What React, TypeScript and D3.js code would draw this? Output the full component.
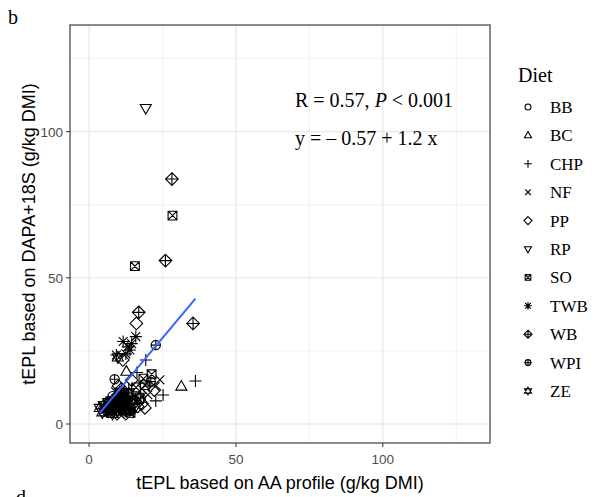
import React from "react";
import * as d3 from "d3";

// diet groups, in legend order
const diets = ["BB", "BC", "CHP", "NF", "PP", "RP", "SO", "TWB", "WB", "WPI", "ZE"];

// [tEPL AA profile, tEPL DAPA+18S] per diet
const BB = [[6.5, 7], [9, 5.5], [11, 8.5], [13.5, 5], [8, 9.5], [15, 7], [10, 6.5], [12.5, 7.5]];
const BC = [[31.4, 12.8], [12.7, 17.9], [9.5, 7.5], [11.5, 10], [14, 6], [7.5, 4.5], [8, 6]];
const CHP = [[36.2, 14.7], [19.3, 21.9], [16.3, 17.6], [25.2, 9.9], [22.7, 7.9], [13.5, 12], [11, 5], [17.5, 10.5], [20.5, 13], [9, 8], [15, 4], [12, 10.5], [6, 6]];
const NF = [[24.1, 15.1], [22.5, 12.8], [20, 10], [9, 11], [13, 8], [16, 9.5], [7, 5], [18, 12], [10.5, 3.5], [11, 4], [14.5, 9]];
const PP = [[16.1, 34.4], [11.5, 21.9], [22.2, 11.6], [19, 5.5], [18, 7], [14.5, 15], [10, 13], [12.5, 3.5], [8.5, 6.5], [16.5, 6], [9.5, 3.5]];
const RP = [[19.3, 108.1], [13, 7.5], [10.5, 6], [15.5, 5.5], [7.5, 8], [12, 5]];
const SO = [[28.4, 71.3], [15.6, 54], [21.3, 17], [19, 13.3], [14.1, 3.8], [18.5, 15.5], [12, 9], [16, 12.5], [10, 4.5], [17, 8.5], [13, 6.5], [9, 7]];
const TWB = [[15.9, 29.9], [11.6, 28.2], [13.2, 26.4], [13.9, 25.3], [9.3, 23.6], [14.5, 27.5], [12.5, 24], [7, 6], [5.5, 5], [8.5, 4], [11, 6.5], [10, 8], [6.5, 4]];
const WB = [[28.2, 83.8], [26, 55.9], [35.4, 34.4], [16.9, 38.2], [11, 12], [6, 4.5], [13, 9.5], [8.5, 8.5]];
const WPI = [[22.7, 27], [8.7, 15.3], [17.6, 8.9], [9.5, 9], [14, 4.5], [21, 14.5], [11.5, 7], [7, 7.5], [12.5, 8], [5.5, 5.5]];
const ZE = [[3.6, 5.5], [6.5, 7.5], [9.8, 22.8], [8, 3.5], [10.5, 11], [12, 6], [15, 8], [5, 6.5], [13.5, 10.5], [4.5, 4], [10, 5.5], [12.5, 4.8], [7.5, 6.5], [11, 9.5], [14, 7]];

const points: Record<string, number[][]> = { BB, BC, CHP, NF, PP, RP, SO, TWB, WB, WPI, ZE };

const ticks = [0, 50, 100];
const minorTicks = [25, 75, 125];

// fitted line from the annotation
const intercept = -0.57;
const slope = 1.2;

// ggplot-like shapes, outline only
function shapePath(diet: string, s: number) {
  const r = 0.85 * s;
  const circle = `M${-r},0a${r},${r} 0 1,0 ${2 * r},0a${r},${r} 0 1,0 ${-2 * r},0`;
  const up = `M0,${-1.1 * s}L${s},${0.65 * s}L${-s},${0.65 * s}Z`;
  const down = `M0,${1.1 * s}L${s},${-0.65 * s}L${-s},${-0.65 * s}Z`;
  const p = 1.1 * s;
  const plus = `M${-p},0H${p}M0,${-p}V${p}`;
  const c = 0.8 * s;
  const cross = `M${-c},${-c}L${c},${c}M${-c},${c}L${c},${-c}`;
  const dm = 1.15 * s;
  const diamond = `M0,${-dm}L${dm},0L0,${dm}L${-dm},0Z`;
  const q = 0.8 * s;
  const square = `M${-q},${-q}H${q}V${q}H${-q}Z`;
  switch (diet) {
    case "BB": return circle;
    case "BC": return up;
    case "CHP": return plus;
    case "NF": return cross;
    case "PP": return diamond;
    case "RP": return down;
    case "SO": return square + `M${-q},${-q}L${q},${q}M${-q},${q}L${q},${-q}`;
    case "TWB": return plus + cross;
    case "WB": return diamond + `M${-dm},0H${dm}M0,${-dm}V${dm}`;
    case "WPI": return circle + `M${-r},0H${r}M0,${-r}V${r}`;
    default: return up + down;
  }
}

export default function App() {
  const width = 596, height = 497;
  const left = 70, right = 490, top = 25, bottom = 443;

  const x = d3.scaleLinear().domain([-6.5, 136.5]).range([left, right]);
  const y = d3.scaleLinear().domain([-6.5, 136.5]).range([bottom, top]);

  const allX = diets.flatMap(d => points[d].map(p => p[0]));
  const [x0, x1] = d3.extent(allX) as [number, number];
  const line = d3.line<number>()
    .x(v => x(v))
    .y(v => y(intercept + slope * v));

  const sans = "'Liberation Sans', Arial, sans-serif";
  const serif = "'Liberation Serif', 'Times New Roman', serif";

  return (
    <svg width={width} height={height} style={{ display: "block" }}>
      <style>{"body{margin:0}"}</style>
      <rect width={width} height={height} fill="#fff" />

      <text x={8} y={24} fontFamily={serif} fontSize={20}>b</text>
      <text x={16} y={504} fontFamily={serif} fontSize={20}>d</text>

      {/* grid */}
      {minorTicks.map(t => (
        <g key={"m" + t}>
          <line x1={x(t)} x2={x(t)} y1={top} y2={bottom} stroke="#EEEEEE" strokeWidth={0.8} />
          <line x1={left} x2={right} y1={y(t)} y2={y(t)} stroke="#EEEEEE" strokeWidth={0.8} />
        </g>
      ))}
      {ticks.map(t => (
        <g key={"g" + t}>
          <line x1={x(t)} x2={x(t)} y1={top} y2={bottom} stroke="#E8E8E8" strokeWidth={1.3} />
          <line x1={left} x2={right} y1={y(t)} y2={y(t)} stroke="#E8E8E8" strokeWidth={1.3} />
        </g>
      ))}

      {/* points */}
      <g fill="none" stroke="#000" strokeWidth={1.1}>
        {diets.map(d => points[d].map((p, i) => (
          <path key={d + i} d={shapePath(d, 5.5)} transform={`translate(${x(p[0])},${y(p[1])})`} />
        )))}
      </g>

      <path d={line([x0, x1]) || ""} stroke="#3366FF" strokeWidth={2} fill="none" />

      <rect x={left} y={top} width={right - left} height={bottom - top} fill="none" stroke="#4D4D4D" strokeWidth={1.3} />

      {/* axes */}
      {ticks.map(t => (
        <g key={"x" + t}>
          <line x1={x(t)} x2={x(t)} y1={bottom} y2={bottom + 4} stroke="#333" />
          <text x={x(t)} y={bottom + 21} textAnchor="middle" fontFamily={sans} fontSize={13.5} fill="#4D4D4D">{t}</text>
          <line x1={left - 4} x2={left} y1={y(t)} y2={y(t)} stroke="#333" />
          <text x={left - 7} y={y(t) + 5} textAnchor="end" fontFamily={sans} fontSize={13.5} fill="#4D4D4D">{t}</text>
        </g>
      ))}
      <text x={(left + right) / 2} y={489} textAnchor="middle" fontFamily={sans} fontSize={18}>tEPL based on AA profile (g/kg DMI)</text>
      <text transform={`translate(35,${(top + bottom) / 2}) rotate(-90)`} textAnchor="middle" fontFamily={sans} fontSize={18}>tEPL based on DAPA+18S (g/kg DMI)</text>

      {/* annotation */}
      <text x={295} y={107} fontFamily={serif} fontSize={20}>R = 0.57, <tspan fontStyle="italic">P</tspan> &lt; 0.001</text>
      <text x={295} y={145} fontFamily={serif} fontSize={20}>y = – 0.57 + 1.2 x</text>

      {/* legend */}
      <text x={518} y={82} fontFamily={serif} fontSize={20}>Diet</text>
      {diets.map((d, i) => {
        const cy = 107 + i * 28.4;
        return (
          <g key={"l" + d}>
            <path d={shapePath(d, 3.5)} transform={`translate(528,${cy})`} fill="none" stroke="#000" strokeWidth={1.1} />
            <text x={550} y={cy + 6} fontFamily={serif} fontSize={17}>{d}</text>
          </g>
        );
      })}
    </svg>
  );
}
